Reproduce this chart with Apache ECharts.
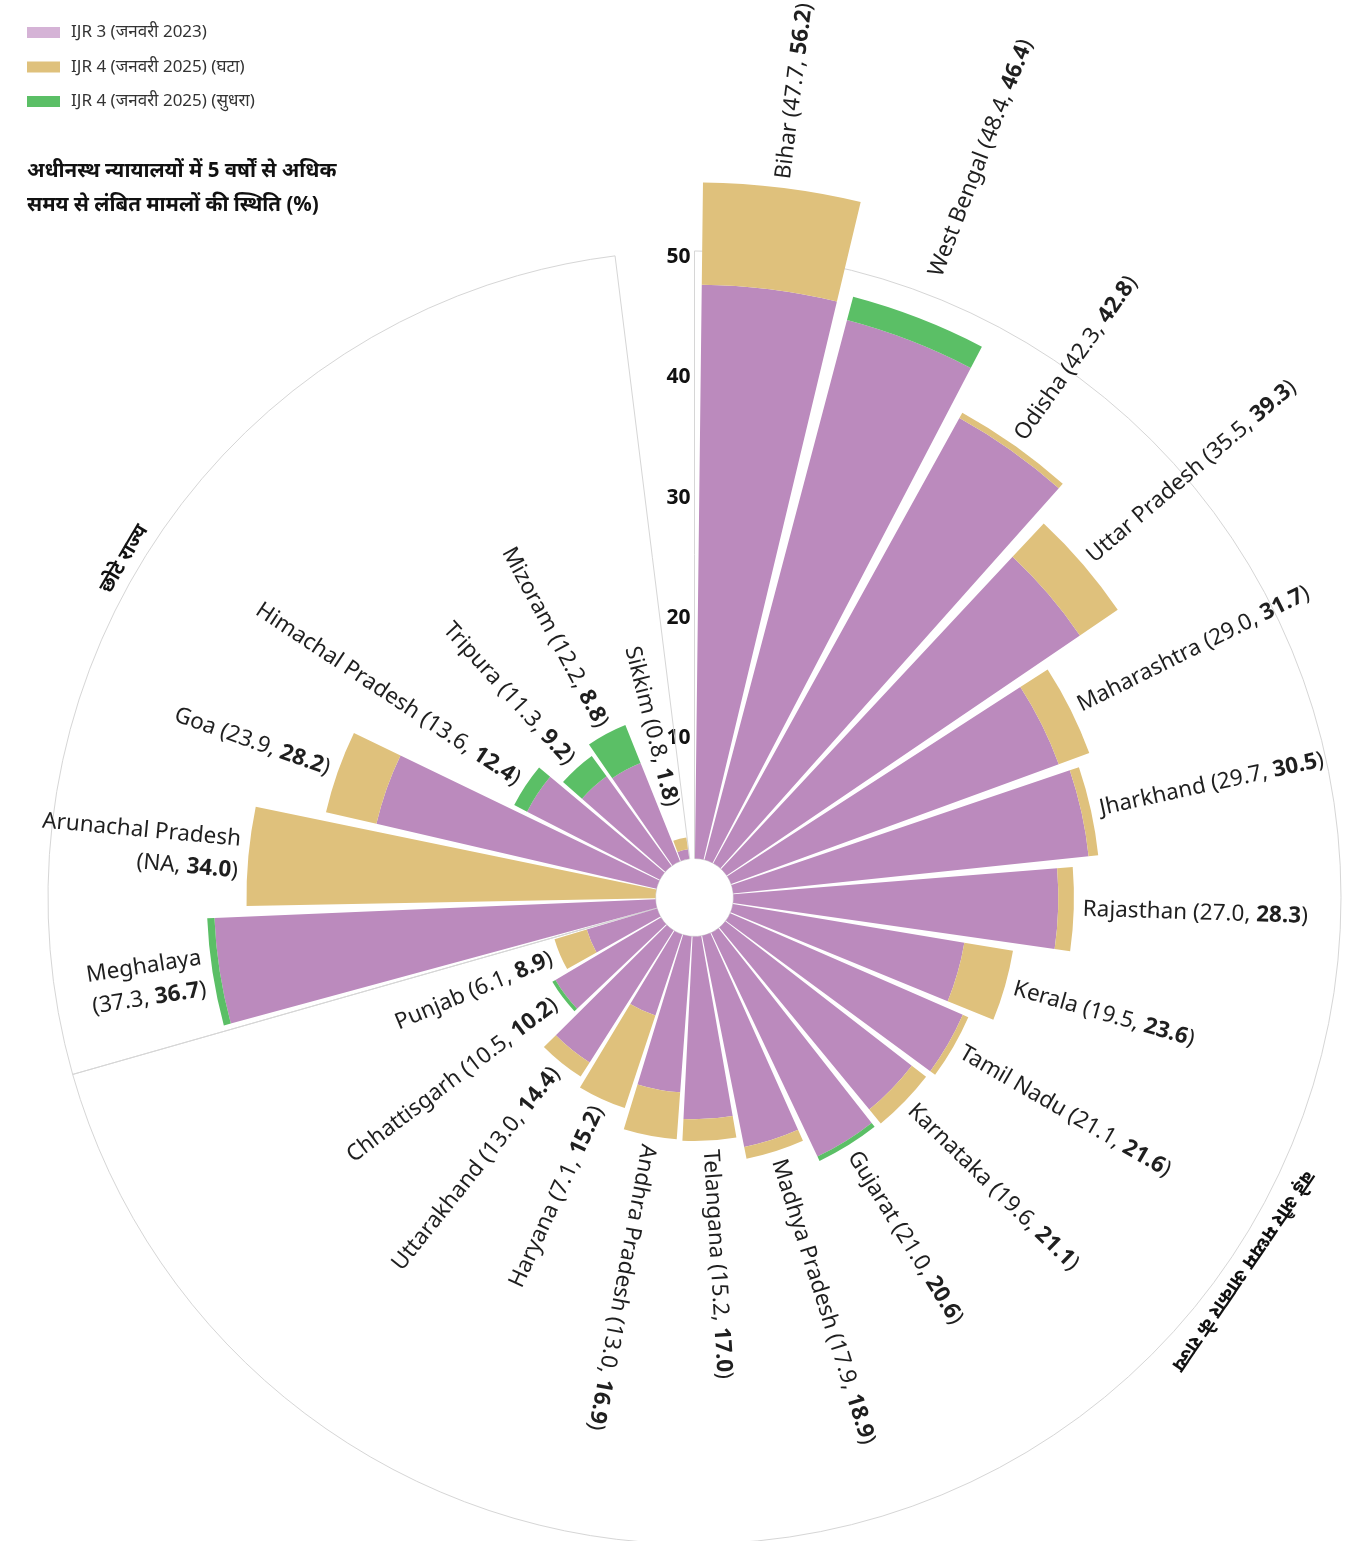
<!DOCTYPE html>
<html><head><meta charset="utf-8">
<script src="https://cdn.jsdelivr.net/npm/echarts@6/dist/echarts.min.js"></script>
<style>html,body{margin:0;padding:0;background:#fff}#c{width:1357px;height:1541px}</style>
</head><body><div id="c"></div>
<script>
// ---------- data ----------
const states = ['Bihar','West Bengal','Odisha','Uttar Pradesh','Maharashtra','Jharkhand','Rajasthan','Kerala','Tamil Nadu','Karnataka','Gujarat','Madhya Pradesh','Telangana','Andhra Pradesh','Haryana','Uttarakhand','Chhattisgarh','Punjab','Meghalaya','Arunachal Pradesh','Goa','Himachal Pradesh','Tripura','Mizoram','Sikkim'];
const ijr3 = [47.7,48.4,42.3,35.5,29.0,29.7,27.0,19.5,21.1,19.6,21.0,17.9,15.2,13.0,7.1,13.0,10.5,6.1,37.3,null,23.9,13.6,11.3,12.2,0.8];
const ijr4 = [56.2,46.4,42.8,39.3,31.7,30.5,28.3,23.6,21.6,21.1,20.6,18.9,17.0,16.9,15.2,14.4,10.2,8.9,36.7,34.0,28.2,12.4,9.2,8.8,1.8];
const groups = [
  {label:'बड़े और मध्यम आकार के राज्य', from:0, to:18},
  {label:'छोटे राज्य', from:18, to:25}
];
const radialTicks = [10,20,30,40,50];
const legendNames = ['IJR 3 (जनवरी 2023)','IJR 4 (जनवरी 2025) (घटा)','IJR 4 (जनवरी 2025) (सुधरा)'];
const titleLines = ['अधीनस्थ न्यायालयों में 5 वर्षों से अधिक','समय से लंबित मामलों की स्थिति (%)'];
const wrapLabels = ['Meghalaya','Arunachal Pradesh'];

// ---------- layout / style ----------
const GAP_SLOTS = 0.5;
const SLOTS = states.length + GAP_SLOTS;
const RING = 50.5;
const LABEL_PAD = 0.75, LABEL_MIN = 4.6;
const FONT = '"Noto Sans", Lato, sans-serif';
const C_PURPLE = '#bb8abd', C_GOLD = '#dfc17c', C_GREEN = '#5bbf66';

const base = states.map((s,i) => ijr3[i] == null ? 0 : Math.min(ijr3[i], ijr4[i]));
const worse = states.map((s,i) => ijr3[i] == null ? ijr4[i] : Math.max(0, ijr4[i] - ijr3[i]));
const better = states.map((s,i) => ijr3[i] == null ? 0 : Math.max(0, ijr3[i] - ijr4[i]));
const fmt = v => v == null ? 'NA' : v.toFixed(1);

function labelRadius(v) {
  let r = Math.max(v + LABEL_PAD, LABEL_MIN);
  if (r > RING - 3 && r < RING + 1.7) r = RING + 1.7; // keep clear of the ring line
  return r;
}

const chart = echarts.init(document.getElementById('c'));
const barCommon = {type:'bar', coordinateSystem:'polar', stack:'s', barWidth:'88.6%', z:2, silent:true};

chart.setOption({
  animation:false,
  backgroundColor:'#fff',
  title:{text:titleLines.join('\n'), left:27, top:154, padding:0,
    textStyle:{fontSize:20.5, fontWeight:'bold', color:'#111', lineHeight:34, fontFamily:FONT}},
  legend:{orient:'vertical', left:27, top:24, padding:0, itemWidth:33, itemHeight:11, itemGap:17.5, icon:'rect',
    selectedMode:false, textStyle:{fontSize:17, color:'#333', fontFamily:FONT, padding:[0,0,0,6]},
    data:[{name:legendNames[0], itemStyle:{color:'#d5b3d6'}}, {name:legendNames[1]}, {name:legendNames[2]}]},
  polar:{center:[694.5, 897.5], radius:[39, 39 + 12.03*60]},
  angleAxis:{type:'value', min:0, max:SLOTS, startAngle:90, clockwise:true,
    axisLine:{show:false}, axisTick:{show:false}, axisLabel:{show:false}, splitLine:{show:false}},
  radiusAxis:{type:'value', min:0, max:60, interval:10,
    axisLine:{show:false}, axisTick:{show:false}, splitLine:{show:false},
    axisLabel:{margin:4, fontSize:21, fontWeight:'bold', color:'#111', fontFamily:FONT,
      formatter: v => radialTicks.includes(v) ? String(v) : ''}},
  series:[
    {type:'custom', coordinateSystem:'polar', z:1, silent:true,
      data: groups.map(g => [RING, g.from]),
      renderItem:(params, api) => {
        const g = groups[params.dataIndex], cs = params.coordSys;
        const a = api.coord([RING, g.from]), e = api.coord([RING, g.to]);
        const r = Math.hypot(a[0]-cs.cx, a[1]-cs.cy);
        const sa = Math.atan2(a[1]-cs.cy, a[0]-cs.cx);
        let ea = Math.atan2(e[1]-cs.cy, e[0]-cs.cx);
        while (ea <= sa) ea += 2*Math.PI;
        const t = api.coord([51.9, (g.from+g.to)/2 - 0.2]);
        const bearing = Math.atan2(t[0]-cs.cx, cs.cy-t[1]);
        return {type:'group', children:[
          {type:'sector', shape:{cx:cs.cx, cy:cs.cy, r0:cs.r0, r:r, startAngle:sa, endAngle:ea, clockwise:true},
            style:{fill:'rgba(0,0,0,0)', stroke:'#d6d6d6', lineWidth:1}},
          {type:'text', x:t[0], y:t[1], rotation:-bearing,
            style:{text:g.label, align:'center', verticalAlign:'middle', fill:'#111',
              fontSize:20, fontWeight:'bold', fontFamily:FONT}}
        ]};
      }},
    Object.assign({name:legendNames[0], data:base.map((v,i)=>[v, i+0.5]), itemStyle:{color:C_PURPLE}}, barCommon),
    Object.assign({name:legendNames[1], data:worse.map((v,i)=>[v, i+0.5]), itemStyle:{color:C_GOLD}}, barCommon),
    Object.assign({name:legendNames[2], data:better.map((v,i)=>[v, i+0.5]), itemStyle:{color:C_GREEN}}, barCommon),
    {type:'custom', coordinateSystem:'polar', z:5, silent:true,
      data: states.map((s,i) => [Math.max(ijr3[i] || 0, ijr4[i]), i+0.5]),
      renderItem:(params, api) => {
        const i = params.dataIndex, cs = params.coordSys;
        const p = api.coord([labelRadius(api.value(0)), api.value(1)]);
        let deg = Math.atan2(p[0]-cs.cx, cs.cy-p[1]) * 180/Math.PI;
        if (deg < 0) deg += 360;
        const outward = deg < 198;
        const rot = (outward ? 90 - deg : 270 - deg) * Math.PI/180;
        const wrap = wrapLabels.includes(states[i]);
        const text = '{n|' + states[i] + (wrap ? '}\n{n|' : ' ') + '(' + fmt(ijr3[i]) + ', }{b|' + fmt(ijr4[i]) + '}{n|)}';
        const tok = {fill:'#1f1f1f', fontSize:22.5, fontFamily:FONT, lineHeight:32};
        return {type:'text', x:p[0], y:p[1], rotation:rot,
          style:{text:text, align: outward ? 'left' : 'right', verticalAlign:'middle', fill:'#1f1f1f',
            fontSize:22.5, fontFamily:FONT,
            rich:{n:tok, b:Object.assign({}, tok, {fontWeight:'bold'})}}};
      }}
  ]
});
</script></body></html>
